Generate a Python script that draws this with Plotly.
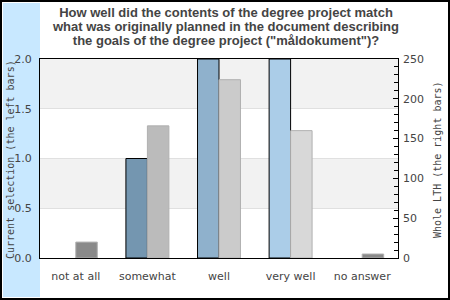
import plotly.graph_objects as go

categories = ["not at all", "somewhat", "well", "very well", "no answer"]
current_selection = [0, 1, 2, 2, 0]
whole_lth = [20, 166, 224, 160, 5]
left_colors = ["#7496b0", "#7496b0", "#8fb1cc", "#abcde8", "#abcde8"]
right_colors = ["#8a8a8a", "#bbbbbb", "#cbcbcb", "#d8d8d8", "#8a8a8a"]
title_lines = [
    "How well did the contents of the degree project match",
    "what was originally planned in the document describing",
    "the goals of the degree project (\"måldokument\")?",
]
left_title = "Current selection (the left bars)"
right_title = "Whole LTH (the right bars)"

W, H = 450, 300
L, R, T, B = 40, 52, 59, 42
pw, ph = W - L - R, H - T - B

def px(x):
    return (x - L) / pw

def py(y):
    return (H - B - y) / ph

fig = go.Figure()
fig.add_trace(go.Bar(
    x=categories, y=current_selection, yaxis="y",
    width=0.3, offset=-0.3,
    marker=dict(color=left_colors,
                line=dict(color="black", width=[1 if v > 0 else 0 for v in current_selection])),
    showlegend=False, hoverinfo="skip",
))
fig.add_trace(go.Bar(
    x=categories, y=whole_lth, yaxis="y2",
    width=0.3, offset=0,
    marker=dict(color=right_colors, line=dict(color="#b0b0b0", width=1)),
    showlegend=False, hoverinfo="skip",
))

shapes = []
shapes.append(dict(type="rect", xref="paper", yref="paper",
                   x0=px(3), x1=px(40), y0=py(297), y1=py(3),
                   fillcolor="#c8e8ff", line=dict(width=0), layer="below"))
for y0, y1 in [(0.5, 1.0), (1.5, 2.0)]:
    shapes.append(dict(type="rect", xref="paper", yref="y", x0=0, x1=1, y0=y0, y1=y1,
                       fillcolor="#f2f2f2", line=dict(width=0), layer="below"))
shapes.append(dict(type="rect", xref="paper", yref="paper",
                   x0=px(1), x1=px(449), y0=py(299), y1=py(1),
                   line=dict(color="black", width=2), fillcolor="rgba(0,0,0,0)"))

title_text = "<br>".join('<span style="font-size:13px"><b>' + t + "</b></span>" for t in title_lines)

annotations = []
annotations.append(dict(text=title_text, xref="paper", yref="paper",
                        x=px(225), y=py(27), showarrow=False,
                        xanchor="center", yanchor="middle", align="center",
                        font=dict(family="Liberation Sans, Arial", size=14 / 1.3, color="#444444")))
annotations.append(dict(text=left_title, xref="paper", yref="paper", x=px(10), y=py(160),
                        textangle=-90, showarrow=False, xanchor="center", yanchor="middle",
                        font=dict(family="DejaVu Sans Mono", size=10, color="#444444")))
annotations.append(dict(text=right_title, xref="paper", yref="paper", x=px(437), y=py(160),
                        textangle=-90, showarrow=False, xanchor="center", yanchor="middle",
                        font=dict(family="DejaVu Sans Mono", size=10, color="#444444")))

tickfont = dict(family="DejaVu Sans", size=11, color="#444444")

fig.update_layout(
    width=W, height=H,
    margin=dict(l=L, r=R, t=T, b=B, pad=0),
    paper_bgcolor="white", plot_bgcolor="white",
    bargap=0.4,
    shapes=shapes, annotations=annotations,
    xaxis=dict(showline=True, linecolor="black", linewidth=1, mirror=True,
               ticks="", tickfont=tickfont, showgrid=False, fixedrange=True,
               ticklabelstandoff=8),
    yaxis=dict(range=[0, 2], dtick=0.5, tickformat=".1f", showline=True, linecolor="black",
               linewidth=1, mirror=True, ticks="", tickfont=tickfont,
               showgrid=True, gridcolor="#e0e0e0", gridwidth=1, zeroline=False,
               ticklabelstandoff=5),
    yaxis2=dict(range=[0, 250], dtick=50, overlaying="y", side="right",
                ticks="inside", ticklen=5, tickcolor="black", tickfont=tickfont,
                showgrid=False, zeroline=False, showline=False,
                minor=dict(dtick=10, ticks="inside", ticklen=4, tickcolor="black"),
                ticklabelstandoff=4),
)

fig.write_html("out.html")
